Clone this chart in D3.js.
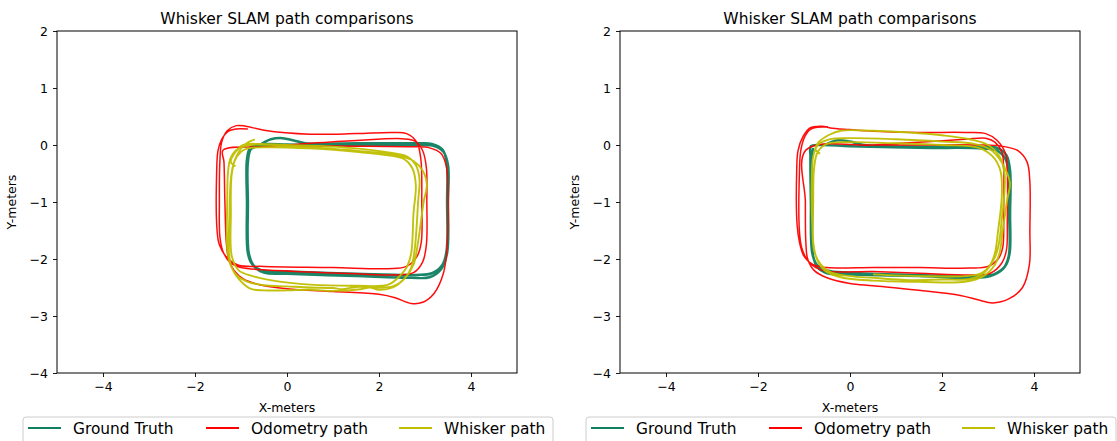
<!DOCTYPE html>
<html>
<head>
<meta charset="utf-8">
<script src="https://cdn.jsdelivr.net/npm/d3@7/dist/d3.min.js"></script>
<style>
  html, body { margin: 0; padding: 0; background: #ffffff; }
  svg { display: block; font-family: "DejaVu Sans", sans-serif; }
</style>
</head>
<body>
<svg id="chart" width="1117" height="441"></svg>
<script>
// ---------- data ----------
const titleText = "Whisker SLAM path comparisons";
const xLabelText = "X-meters";
const yLabelText = "Y-meters";
const xDomain = [-5, 5];
const yDomain = [-4, 2];
const xTickValues = [-4, -2, 0, 2, 4];
const yTickValues = [-4, -3, -2, -1, 0, 1, 2];
const seriesNames = ["Ground Truth", "Odometry path", "Whisker path"];
const seriesColors = ["#0f7f5f", "#ff0000", "#bfbf00"];

// Left panel
const groundTruthLeft = [
  [-0.55, 0.02], [-0.35, 0.1], [-0.1, 0.12], [0.15, 0.08], [0.4, 0.03], [1.5, 0.03], [2.8, 0.03],
  [3.15, 0.02], [3.38, -0.08], [3.47, -0.3], [3.48, -1.0], [3.47, -1.85], [3.38, -2.1], [3.15, -2.25],
  [2.8, -2.28], [1.5, -2.26], [0.0, -2.22], [-0.55, -2.2], [-0.75, -2.1], [-0.85, -1.9], [-0.87, -1.0],
  [-0.87, -0.25], [-0.8, -0.05], [-0.6, 0.01], [0.0, 0.01], [0.4, 0.0], [1.5, 0.0], [2.9, 0.0],
  [3.2, -0.02], [3.4, -0.12], [3.5, -0.35], [3.5, -1.0], [3.48, -1.9], [3.35, -2.18], [3.1, -2.32],
  [2.7, -2.33], [1.5, -2.3], [0.0, -2.26], [-0.5, -2.24], [-0.72, -2.12], [-0.83, -1.9], [-0.85, -1.0],
  [-0.85, -0.3], [-0.78, -0.07], [-0.55, -0.01], [0.0, 0.0]
];
const odometryLeft = [
  [0.3, -0.02], [1.5, -0.02], [2.7, -0.03], [3.1, -0.05], [3.35, -0.15], [3.47, -0.4], [3.5, -1.0],
  [3.48, -1.8], [3.4, -2.25], [3.2, -2.6], [2.95, -2.76], [2.7, -2.78], [2.35, -2.68], [2.0, -2.62],
  [1.0, -2.57], [0.0, -2.52], [-0.6, -2.45], [-0.95, -2.35], [-1.15, -2.2], [-1.27, -2.0], [-1.32, -1.7],
  [-1.35, -1.0], [-1.37, -0.3], [-1.39, -0.09], [-0.5, -0.03], [0.5, 0.03], [1.5, 0.08], [2.5, 0.11],
  [2.78, 0.07], [2.95, -0.1], [3.03, -0.4], [3.04, -1.0], [3.03, -1.75], [2.95, -2.05], [2.75, -2.24],
  [2.4, -2.28], [1.5, -2.26], [0.5, -2.23], [-0.5, -2.19], [-1.0, -2.15], [-1.25, -2.05], [-1.4, -1.85],
  [-1.46, -1.6], [-1.47, -1.0], [-1.46, -0.3], [-1.42, 0.05], [-1.3, 0.25], [-1.1, 0.34], [-0.9, 0.33],
  [-0.5, 0.26], [0.5, 0.19], [1.5, 0.2], [2.3, 0.22], [2.6, 0.2], [2.82, 0.05], [2.91, -0.25],
  [2.93, -1.0], [2.92, -1.7], [2.83, -1.95], [2.6, -2.13], [2.2, -2.17], [1.0, -2.15], [-0.5, -2.13],
  [-1.05, -2.11], [-1.3, -1.98], [-1.47, -1.75], [-1.52, -1.5], [-1.53, -0.5], [-1.5, -0.1],
  [-1.42, 0.1], [-1.28, 0.24], [-1.1, 0.28], [-0.85, 0.28]
];
const whiskerLeft = [
  [-1.12, -0.37], [-1.22, -0.3], [-1.12, -0.12], [-0.95, 0.0], [-0.6, 0.02], [0.0, 0.0], [0.8, -0.02],
  [1.5, -0.06], [2.2, -0.13], [2.6, -0.2], [2.8, -0.35], [2.88, -0.6], [2.85, -1.0], [2.78, -1.8],
  [2.7, -2.15], [2.55, -2.35], [2.3, -2.48], [2.0, -2.5], [1.5, -2.49], [1.2, -2.53], [1.0, -2.51],
  [0.5, -2.5], [0.0, -2.48], [-0.5, -2.46], [-0.85, -2.4], [-1.1, -2.28], [-1.25, -2.05], [-1.3, -1.8],
  [-1.3, -1.0], [-1.28, -0.45], [-1.22, -0.22], [-1.05, -0.06], [-0.8, 0.0], [-0.3, 0.0], [0.5, -0.04],
  [1.5, -0.1], [2.4, -0.18], [2.75, -0.28], [2.95, -0.45], [3.04, -0.7], [2.97, -1.0], [2.85, -1.7],
  [2.75, -2.1], [2.55, -2.35], [2.3, -2.5], [2.0, -2.54], [1.8, -2.5], [1.6, -2.53], [1.0, -2.56],
  [0.5, -2.54], [0.0, -2.55], [-0.5, -2.55], [-0.8, -2.52], [-1.05, -2.35], [-1.2, -2.15], [-1.26, -1.9],
  [-1.25, -1.2], [-1.22, -0.6], [-1.15, -0.3], [-1.0, -0.12], [-0.85, -0.06], [-0.5, -0.04], [0.5, -0.06],
  [1.5, -0.12], [2.2, -0.18], [2.55, -0.25], [2.72, -0.4], [2.8, -0.7], [2.75, -1.2], [2.7, -1.9],
  [2.6, -2.15], [2.45, -2.3], [2.2, -2.45], [1.5, -2.47], [0.5, -2.45], [-0.3, -2.38], [-0.75, -2.3],
  [-1.05, -2.2], [-1.2, -1.95], [-1.22, -1.2], [-1.2, -0.5], [-1.1, -0.2], [-0.9, 0.02], [-0.7, 0.1]
];

// Right panel
const groundTruthRight = [
  [-0.5, 0.02], [-0.3, 0.08], [0.0, 0.06], [0.3, 0.0], [1.5, -0.03], [2.9, -0.03], [3.2, -0.05],
  [3.4, -0.18], [3.48, -0.45], [3.48, -1.2], [3.47, -1.9], [3.38, -2.12], [3.15, -2.26], [2.8, -2.3],
  [1.5, -2.28], [0.0, -2.24], [-0.5, -2.2], [-0.72, -2.1], [-0.82, -1.9], [-0.85, -1.0], [-0.86, -0.2],
  [-0.85, -0.02], [-0.6, 0.0], [0.0, -0.02], [1.5, -0.05], [2.9, -0.06], [3.2, -0.1], [3.38, -0.25],
  [3.45, -0.5], [3.46, -1.2], [3.45, -1.95], [3.32, -2.18], [3.05, -2.3], [2.6, -2.33], [1.5, -2.3],
  [0.0, -2.27], [-0.5, -2.25], [-0.7, -2.15], [-0.8, -1.95], [-0.82, -1.0], [-0.83, -0.2], [-0.8, -0.05]
];
const odometryRight = [
  [0.3, 0.0], [1.5, 0.0], [2.8, 0.0], [3.3, -0.02], [3.65, -0.1], [3.85, -0.3], [3.91, -0.65],
  [3.91, -1.5], [3.9, -2.1], [3.75, -2.5], [3.45, -2.7], [3.1, -2.77], [2.8, -2.72], [2.4, -2.64],
  [1.5, -2.55], [0.5, -2.47], [0.0, -2.43], [-0.5, -2.33], [-0.78, -2.2], [-0.92, -2.0], [-0.96, -1.7],
  [-0.97, -1.0], [-0.96, -0.09], [0.5, 0.0], [1.5, 0.05], [2.5, 0.1], [2.95, 0.12], [3.15, 0.05],
  [3.3, -0.12], [3.34, -0.4], [3.34, -1.2], [3.32, -1.8], [3.22, -2.0], [3.0, -2.13], [2.6, -2.16],
  [1.5, -2.15], [0.5, -2.15], [-0.5, -2.15], [-0.8, -2.1], [-1.0, -1.95], [-1.1, -1.7], [-1.15, -1.4],
  [-1.16, -0.5], [-1.13, -0.1], [-1.02, 0.15], [-0.87, 0.3], [-0.6, 0.33], [-0.43, 0.3], [0.0, 0.27],
  [0.5, 0.24], [1.5, 0.22], [2.5, 0.22], [2.95, 0.2], [3.2, 0.08], [3.38, -0.15], [3.42, -0.5],
  [3.42, -1.3], [3.4, -1.85], [3.3, -2.07], [3.05, -2.25], [2.7, -2.28], [1.5, -2.25], [0.5, -2.22],
  [-0.6, -2.2], [-0.9, -2.05], [-1.05, -1.8], [-1.1, -1.5], [-1.1, -0.5], [-1.07, -0.1], [-0.98, 0.15],
  [-0.85, 0.28], [-0.48, 0.32]
];
const whiskerRight = [
  [-0.65, -0.15], [-0.75, -0.08], [-0.68, 0.05], [-0.45, 0.18], [-0.2, 0.25], [0.5, 0.25], [1.3, 0.22],
  [2.0, 0.17], [2.6, 0.1], [3.0, 0.0], [3.25, -0.2], [3.36, -0.5], [3.36, -0.8], [3.3, -1.3], [3.22, -1.8],
  [3.1, -2.05], [2.9, -2.25], [2.6, -2.35], [2.0, -2.36], [1.3, -2.37], [0.5, -2.33], [0.0, -2.3],
  [-0.4, -2.24], [-0.65, -2.08], [-0.78, -1.85], [-0.82, -1.4], [-0.83, -0.6], [-0.8, -0.2], [-0.7, 0.0],
  [-0.45, 0.1], [0.0, 0.12], [1.0, 0.1], [2.0, 0.06], [2.7, 0.02], [3.05, -0.08], [3.28, -0.28],
  [3.42, -0.5], [3.48, -0.68], [3.42, -0.95], [3.32, -1.5], [3.25, -1.9], [3.15, -2.1], [2.9, -2.3],
  [2.5, -2.4], [1.5, -2.4], [0.5, -2.38], [-0.2, -2.32], [-0.55, -2.2], [-0.72, -2.0], [-0.8, -1.7],
  [-0.8, -1.0], [-0.78, -0.4], [-0.7, -0.12], [-0.5, 0.02], [0.0, 0.05], [1.0, 0.03], [2.0, 0.0],
  [2.8, -0.05], [3.1, -0.2], [3.27, -0.45], [3.3, -0.9], [3.22, -1.5], [3.15, -1.9], [3.05, -2.1],
  [2.85, -2.25], [2.5, -2.3], [1.5, -2.3], [0.5, -2.27]
];

// ---------- drawing ----------
const svg = d3.select("#chart");
const fmt = d => (d < 0 ? "\u2212" + Math.abs(d) : String(d));
const lineWidths = [2.5, 1.5, 1.9];

function drawPanel(offsetX, seriesList) {
  const left = 57 + offsetX, top = 31, width = 460, height = 342;
  const x = d3.scaleLinear().domain(xDomain).range([left, left + width]);
  const y = d3.scaleLinear().domain(yDomain).range([top + height, top]);
  const g = svg.append("g");

  const clipId = "clip" + offsetX;
  svg.append("clipPath").attr("id", clipId)
    .append("rect").attr("x", left).attr("y", top).attr("width", width).attr("height", height);

  const line = d3.line().x(d => x(d[0])).y(d => y(d[1])).curve(d3.curveCatmullRom.alpha(0.5));
  const plot = g.append("g").attr("clip-path", `url(#${clipId})`);
  seriesList.forEach((pts, i) => {
    plot.append("path").datum(pts)
      .attr("d", line)
      .attr("fill", "none")
      .attr("stroke", seriesColors[i])
      .attr("stroke-width", lineWidths[i])
      .attr("stroke-linejoin", "round")
      .attr("stroke-linecap", "butt")
      .attr("opacity", 0.95);
  });

  const xAxis = d3.axisBottom(x).tickValues(xTickValues).tickFormat(fmt).tickSize(4).tickPadding(5);
  const yAxis = d3.axisLeft(y).tickValues(yTickValues).tickFormat(fmt).tickSize(4).tickPadding(5);
  const gx = g.append("g").attr("transform", `translate(0,${top + height})`).call(xAxis);
  const gy = g.append("g").attr("transform", `translate(${left},0)`).call(yAxis);
  [gx, gy].forEach(a => {
    a.select(".domain").remove();
    a.selectAll("text").attr("font-size", 12.5).attr("fill", "#000").attr("font-family", "DejaVu Sans");
    a.selectAll("line").attr("stroke", "#000").attr("stroke-width", 0.9);
  });

  g.append("rect").attr("x", left).attr("y", top).attr("width", width).attr("height", height)
    .attr("fill", "none").attr("stroke", "#000").attr("stroke-width", 1);

  g.append("text").attr("x", left + width / 2).attr("y", 23.5)
    .attr("text-anchor", "middle").attr("font-size", 15.5).attr("fill", "#000").text(titleText);
  g.append("text").attr("x", left + width / 2).attr("y", 412)
    .attr("text-anchor", "middle").attr("font-size", 12.5).attr("fill", "#000").text(xLabelText);
  g.append("text").attr("transform", `translate(${left - 41},${top + height / 2}) rotate(-90)`)
    .attr("text-anchor", "middle").attr("font-size", 12.5).attr("fill", "#000").text(yLabelText);

  // legend
  const lg = g.append("g");
  lg.append("rect").attr("x", 23 + offsetX).attr("y", 417).attr("width", 530).attr("height", 40)
    .attr("rx", 3).attr("fill", "#fff").attr("fill-opacity", 0.8).attr("stroke", "#cccccc").attr("stroke-width", 1);
  const entryX = [28, 206, 399];
  seriesNames.forEach((name, i) => {
    const ex = entryX[i] + offsetX;
    lg.append("line").attr("x1", ex).attr("x2", ex + 33).attr("y1", 428).attr("y2", 428)
      .attr("stroke", seriesColors[i]).attr("stroke-width", 2);
    lg.append("text").attr("x", ex + 45).attr("y", 433.5).attr("font-size", 15.4).attr("fill", "#000").text(name);
  });
}

drawPanel(0, [groundTruthLeft, odometryLeft, whiskerLeft]);
drawPanel(563, [groundTruthRight, odometryRight, whiskerRight]);
</script>
</body>
</html>
